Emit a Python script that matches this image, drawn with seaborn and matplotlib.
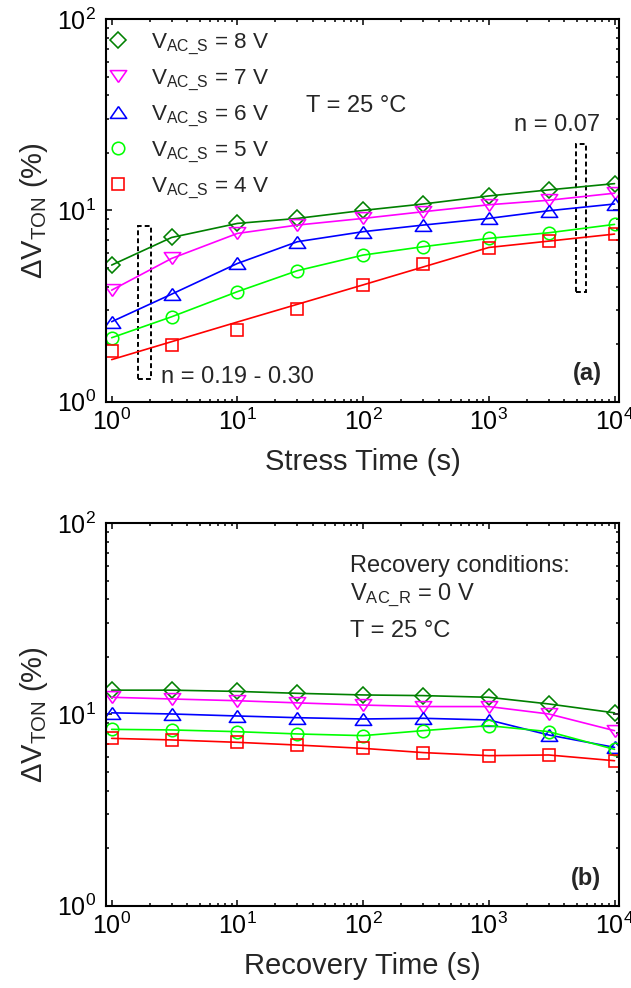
import matplotlib
matplotlib.use("Agg")
import matplotlib.pyplot as plt
import seaborn as sns
from matplotlib.lines import Line2D
from matplotlib.patches import Rectangle

# ---- data ----
time_s = [1, 3, 10, 30, 100, 300, 1000, 3000, 10000]

stress_8v = [5.18, 7.22, 8.55, 9.08, 10.0, 10.8, 11.9, 12.8, 13.8]
stress_7v = [3.83, 5.61, 7.58, 8.38, 9.08, 9.84, 10.7, 11.3, 12.3]
stress_6v = [2.62, 3.65, 5.28, 6.86, 7.74, 8.38, 9.08, 9.96, 10.8]
stress_5v = [2.16, 2.78, 3.76, 4.84, 5.84, 6.46, 7.14, 7.64, 8.45]
stress_4v = [1.84, 1.98, 2.37, 3.04, 4.07, 5.24, 6.33, 6.94, 7.52]
# power-law fit drawn through the 4 V stress data
stress_fit_4v = [1.66, 2.06, 2.61, 3.23, 4.08, 5.06, 6.40, 6.91, 7.52]

recovery_8v = [13.4, 13.4, 13.2, 12.9, 12.65, 12.55, 12.3, 11.35, 10.2]
recovery_7v = [12.3, 12.05, 11.8, 11.5, 11.2, 11.0, 11.0, 10.06, 8.23]
recovery_6v = [10.2, 10.06, 9.82, 9.62, 9.47, 9.55, 9.36, 7.81, 6.73]
recovery_5v = [8.36, 8.30, 8.13, 7.91, 7.75, 8.23, 8.74, 8.13, 6.57]
recovery_4v = [7.50, 7.36, 7.15, 6.92, 6.65, 6.32, 6.09, 6.14, 5.73]

stress_volts = [8, 7, 6, 5, 4]
series_colors = ["#008000", "#ff00ff", "#0000ff", "#00ff00", "#ff0000"]

# flattened triangles like the original symbols
tri_down = [(0, -0.72), (-1, 0.72), (1, 0.72), (0, -0.72)]
tri_up = [(0, 0.72), (-1, -0.72), (1, -0.72), (0, 0.72)]
series_markers = ["D", tri_down, tri_up, "o", "s"]
marker_sizes = [8.0, 11.8, 11.8, 9.0, 8.3]

sns.set_style("ticks")
plt.rcParams.update({
    "font.family": ["Liberation Sans", "DejaVu Sans"],
    "mathtext.fontset": "custom",
    "mathtext.rm": "Liberation Sans",
    "mathtext.it": "Liberation Sans:italic",
    "mathtext.bf": "Liberation Sans:bold",
    "axes.linewidth": 1.5,
    "axes.edgecolor": "black",
    "xtick.direction": "in",
    "ytick.direction": "in",
    "xtick.top": True,
    "ytick.right": True,
    "xtick.major.size": 4.3,
    "ytick.major.size": 4.3,
    "xtick.minor.size": 2.5,
    "ytick.minor.size": 2.5,
    "xtick.major.width": 1.1,
    "ytick.major.width": 1.1,
    "xtick.minor.width": 1.1,
    "ytick.minor.width": 1.1,
    "xtick.labelsize": 18,
    "ytick.labelsize": 18,
    "xtick.color": "black",
    "ytick.color": "black",
})

fig = plt.figure(figsize=(6.31, 9.88), dpi=100)
ax_a = fig.add_axes([0.1672, 0.5934, 0.8143, 0.3873])
ax_b = fig.add_axes([0.1672, 0.0833, 0.8143, 0.3871])


def draw_series(ax, values, lines):
    for y, y_line, c, m, ms in zip(values, lines, series_colors,
                                   series_markers, marker_sizes):
        sns.lineplot(x=time_s, y=y_line, ax=ax, color=c, lw=1.2, legend=False)
        sns.lineplot(x=time_s, y=y, ax=ax, color=c, linestyle="none",
                     marker=m, markersize=ms, markerfacecolor="none",
                     markeredgecolor=c, markeredgewidth=1.15, legend=False)


def style_axes(ax, xlabel):
    ax.set_xscale("log")
    ax.set_yscale("log")
    ax.set_xlim(0.893, 10920)
    ax.set_ylim(1, 100)
    ax.set_xlabel(xlabel, fontsize=21, labelpad=9)
    ax.set_ylabel(r"ΔV$_{\mathregular{TON}}$ (%)", fontsize=21, labelpad=5)
    ax.tick_params(axis="x", which="both", pad=5)
    ax.tick_params(axis="y", which="both", pad=7)
    for sp in ax.spines.values():
        sp.set_visible(True)


# ---- (a) stress ----
stress = [stress_8v, stress_7v, stress_6v, stress_5v, stress_4v]
stress_lines = [stress_8v, stress_7v, stress_6v, stress_5v, stress_fit_4v]
draw_series(ax_a, stress, stress_lines)
style_axes(ax_a, "Stress Time (s)")

handles = [
    Line2D([], [], linestyle="none", marker=m, markersize=ms,
           markerfacecolor="none", markeredgecolor=c, markeredgewidth=1.15)
    for c, m, ms in zip(series_colors, series_markers, marker_sizes)
]
labels = [rf"V$_{{\mathregular{{AC\_S}}}}$ = {v} V" for v in stress_volts]
ax_a.legend(handles, labels, loc="upper left", bbox_to_anchor=(0.0024, 0.968),
            frameon=False, fontsize=16.2, borderpad=0, borderaxespad=0,
            handlelength=1.0, handletextpad=0.98, labelspacing=0.47)

dash = (0, (2.5, 1.6))
ax_a.add_patch(Rectangle((1.625, 1.314), 2.054 - 1.625, 8.28 - 1.314,
                         fill=False, ec="black", lw=1.4, ls=dash))
ax_a.add_patch(Rectangle((4907, 3.76), 5917 - 4907, 22.2 - 3.76,
                         fill=False, ec="black", lw=1.4, ls=dash))

ax_a.text(0.3908, 0.7578, "T = 25 °C", transform=ax_a.transAxes,
          fontsize=17, va="baseline")
ax_a.text(0.7957, 0.7081, "n = 0.07", transform=ax_a.transAxes,
          fontsize=17, va="baseline")
ax_a.text(0.1072, 0.0481, "n = 0.19 - 0.30", transform=ax_a.transAxes,
          fontsize=17, va="baseline")
ax_a.text(0.9652, 0.0567, "(a)", transform=ax_a.transAxes, fontsize=17,
          fontweight="bold", ha="right", va="baseline")

# ---- (b) recovery ----
recovery = [recovery_8v, recovery_7v, recovery_6v, recovery_5v, recovery_4v]
draw_series(ax_b, recovery, recovery)
style_axes(ax_b, "Recovery Time (s)")

ax_b.text(0.4759, 0.8737, "Recovery conditions:", transform=ax_b.transAxes,
          fontsize=17, va="baseline")
ax_b.text(0.4759, 0.7994, r"V$_{\mathregular{AC\_R}}$ = 0 V",
          transform=ax_b.transAxes, fontsize=17, va="baseline")
ax_b.text(0.4759, 0.7035, "T = 25 °C", transform=ax_b.transAxes,
          fontsize=17, va="baseline")
ax_b.text(0.9652, 0.0541, "(b)", transform=ax_b.transAxes, fontsize=17,
          fontweight="bold", ha="right", va="baseline")

fig.savefig("out.png", dpi=100)
plt.close(fig)
